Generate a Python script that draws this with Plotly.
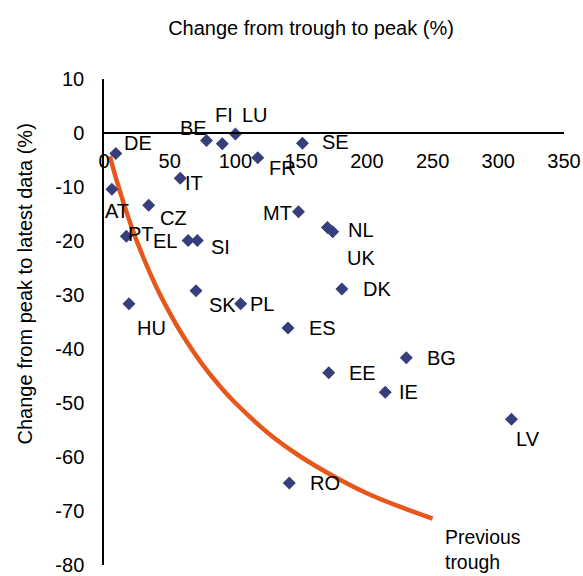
import plotly.graph_objects as go

# ---- data ----
countries = ["DE", "AT", "BE", "FI", "LU", "FR", "SE", "IT", "CZ", "PT", "EL", "SI", "MT",
             "NL", "UK", "DK", "HU", "SK", "PL", "ES", "EE", "BG", "IE", "LV", "RO"]
trough_to_peak = [9, 6, 78, 90, 100, 117, 151, 58, 34, 17, 64, 71, 148,
                  170, 174, 181, 19, 70, 104, 140, 171, 230, 214, 310, 141]
peak_to_latest = [-3.8, -10.4, -1.4, -2.0, -0.2, -4.6, -1.9, -8.4, -13.4, -19.1, -19.9, -19.9, -14.6,
                  -17.5, -18.3, -28.9, -31.6, -29.2, -31.6, -36.1, -44.4, -41.6, -48.0, -53.0, -64.8]

# "Previous trough" curve
curve_x = [4.5, 10, 20, 30, 40, 50, 60, 75, 90, 100, 125, 150, 175, 200, 225, 250]
curve_y = [-4.3, -9.1, -16.7, -23.1, -28.6, -33.3, -37.5, -42.9, -47.4, -50.0,
           -55.6, -60.0, -63.6, -66.7, -69.2, -71.4]

x_ticks = [0, 50, 100, 150, 200, 250, 300, 350]
y_ticks = [10, 0, -10, -20, -30, -40, -50, -60, -70, -80]

# ---- styling: label offsets in pixels (dx right, dy down) ----
label_offsets = {
    "DE": (22, -11), "AT": (5, 22), "BE": (-13, -13), "FI": (2, -29), "LU": (20, -19),
    "FR": (25, 10), "SE": (33, -1), "IT": (14, 5), "CZ": (25, 13), "PT": (15, -2),
    "EL": (-23, 1), "SI": (23, 7), "MT": (-21, 1), "NL": (34, 2), "UK": (28, 26),
    "DK": (35, 0), "HU": (23, 24), "SK": (26, 14), "PL": (21, 0), "ES": (34, 0),
    "EE": (34, 0), "BG": (35, 0), "IE": (23, 0), "LV": (17, 20), "RO": (36, 0),
}

FONT = "Liberation Sans, Arial, sans-serif"
FS = 20

fig = go.Figure()

fig.add_trace(go.Scatter(
    x=curve_x, y=curve_y, mode="lines", line=dict(color="#E9561B", width=4.5, shape="spline"),
    hoverinfo="skip", showlegend=False,
))

fig.add_trace(go.Scatter(
    x=trough_to_peak, y=peak_to_latest, mode="markers",
    marker=dict(symbol="diamond", size=10, color="#363E7C"),
    text=countries, showlegend=False,
))

annotations = []
for c, xv, yv in zip(countries, trough_to_peak, peak_to_latest):
    dx, dy = label_offsets[c]
    annotations.append(dict(
        x=xv, y=yv, xref="x", yref="y", text=c, showarrow=False,
        xanchor="center", yanchor="middle", xshift=dx, yshift=-dy,
        font=dict(family=FONT, size=FS, color="black"),
    ))

annotations.append(dict(
    x=curve_x[-1], y=curve_y[-1], xref="x", yref="y", text="Previous<br>trough",
    showarrow=False, xanchor="left", yanchor="top", align="left", xshift=10, yshift=-5,
    font=dict(family=FONT, size=FS * 0.97, color="black"),
))

annotations.append(dict(
    x=-0.172, y=0.579, xref="paper", yref="paper", text="Change from peak to latest data (%)",
    showarrow=False, textangle=-90, xanchor="center", yanchor="middle",
    font=dict(family=FONT, size=FS, color="black"),
))

fig.update_layout(
    width=583, height=576,
    margin=dict(l=104, r=19, t=79, b=11, autoexpand=False),
    paper_bgcolor="white", plot_bgcolor="white",
    font=dict(family=FONT, size=FS, color="black"),
    title=dict(text="Change from trough to peak (%)", x=311 / 583, y=1 - 28 / 576,
               xanchor="center", yanchor="middle", xref="container", yref="container",
               font=dict(family=FONT, size=FS, color="black")),
    annotations=annotations,
    xaxis=dict(
        range=[0, 350], tickvals=x_ticks, ticktext=[str(v) for v in x_ticks],
        showgrid=False, zeroline=False, showline=True, linecolor="black", linewidth=1.5,
        anchor="free", position=80 / 90, side="bottom", ticks="", ticklabelstandoff=10,
        automargin=False, tickfont=dict(family=FONT, size=FS, color="black"),
    ),
    yaxis=dict(
        range=[-80, 10], tickvals=y_ticks, ticktext=[str(v) for v in y_ticks],
        showgrid=False, zeroline=False, showline=True, linecolor="black", linewidth=1.5,
        ticks="", ticklabelstandoff=14, automargin=False,
        tickfont=dict(family=FONT, size=FS, color="black"),
    ),
)

fig.write_html(
    "out.html",
    config={"displayModeBar": False},
    post_script="document.body.style.margin='0';document.body.style.overflow='hidden';",
)
